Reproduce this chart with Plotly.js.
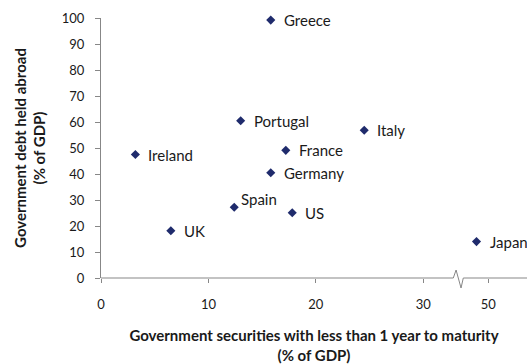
<!DOCTYPE html>
<html>
<head>
<meta charset="utf-8">
<script src="https://cdn.plot.ly/plotly-3.0.1.min.js"></script>
<style>html,body{margin:0;padding:0;background:#fff;}#chart{width:527px;height:364px;}</style>
</head>
<body>
<div id="chart"></div>
<script>
// Data (x: government securities < 1 year to maturity, % of GDP; y: government debt held abroad, % of GDP)
const countries = ["Greece", "Portugal", "Italy", "Ireland", "France", "Germany", "Spain", "US", "UK", "Japan"];
const shortTermSecurities = [15.8, 13.0, 24.5, 3.2, 17.2, 15.8, 12.4, 17.8, 6.5, 48.9];
const debtHeldAbroad = [99.2, 60.5, 56.8, 47.5, 49.1, 40.5, 27.2, 25.1, 18.2, 14.0];
const xTickValues = [0, 10, 20, 30, 50];
const xTickLabels = ["0", "10", "20", "30", "50"];
const yTickValues = [0, 10, 20, 30, 40, 50, 60, 70, 80, 90, 100];

// Broken x-axis: values above the break are shifted left
const BREAK_DISPLAY = 33.15;   // where the zig-zag sits (display units)
const BREAK_SHIFT = 13.95;     // shift applied to values beyond the break
const BREAK_LIMIT = 35;
function disp(v) { return v > BREAK_LIMIT ? v - BREAK_SHIFT : v; }

const X_RANGE = [0, 39.65];
const Y_RANGE = [0, 100];
const navy = "#1F2B6C";
const axisGrey = "#878787";
const labelFont = {family: "Lato, 'Open Sans', sans-serif", size: 15, color: "#1a1a1a"};

const xDisp = shortTermSecurities.map(disp);

const trace = {
  type: "scatter",
  mode: "markers",
  x: xDisp,
  y: debtHeldAbroad,
  text: countries,
  hoverinfo: "text",
  marker: {symbol: "diamond", size: 7, color: navy},
  cliponaxis: false
};

// Labels (Spain is placed above-right)
const annotations = countries.map((c, i) => ({
  x: xDisp[i], y: debtHeldAbroad[i], xref: "x", yref: "y",
  text: c, showarrow: false, xanchor: "left", yanchor: "middle",
  xshift: c === "Spain" ? 5 : 11, yshift: c === "Spain" ? 8 : 0,
  font: labelFont
}));

// axis line with break symbol, in paper coordinates
function px(d) { return (d - X_RANGE[0]) / (X_RANGE[1] - X_RANGE[0]); }
const plotH = 260;
const b0 = px(BREAK_DISPLAY - 0.36), b1 = px(BREAK_DISPLAY - 0.1), b2 = px(BREAK_DISPLAY + 0.36), b3 = px(BREAK_DISPLAY + 0.57);
const up = 8 / plotH, dn = -10 / plotH;
const shapes = [
  {type: "line", xref: "paper", yref: "paper", x0: 0, x1: b0, y0: 0, y1: 0, line: {color: axisGrey, width: 1}},
  {type: "path", xref: "paper", yref: "paper",
   path: `M ${b0},0 L ${b1},${up} L ${b2},${dn} L ${b3},0`,
   line: {color: axisGrey, width: 1}},
  {type: "line", xref: "paper", yref: "paper", x0: b3, x1: 1.02, y0: 0, y1: 0, line: {color: axisGrey, width: 1}}
];

const tickFont = {family: "Lato, 'Open Sans', sans-serif", size: 13, color: "#1a1a1a"};
const titleFont = {family: "Lato, 'Open Sans', sans-serif", size: 15, color: "#1a1a1a", weight: "bold"};

const layout = {
  width: 527, height: 364,
  margin: {l: 101, r: 0, t: 18, b: 86},
  paper_bgcolor: "#ffffff", plot_bgcolor: "#ffffff",
  showlegend: false,
  xaxis: {
    range: X_RANGE, tickmode: "array", tickvals: xTickValues.map(disp), ticktext: xTickLabels,
    showgrid: false, zeroline: false, showline: false,
    ticks: "outside", ticklen: 4, tickcolor: axisGrey, tickfont: tickFont, ticklabelstandoff: 10,
    title: {text: "<b>Government securities with less than 1 year to maturity</b><br><b>(% of GDP)</b>", font: titleFont, standoff: 22},
    automargin: false, fixedrange: true
  },
  yaxis: {
    range: Y_RANGE, tickmode: "array", tickvals: yTickValues,
    showgrid: false, zeroline: false, showline: true, linecolor: axisGrey, linewidth: 1,
    ticks: "outside", ticklen: 5, tickcolor: axisGrey, tickfont: tickFont, ticklabelstandoff: 8,
    title: {text: "<b>Government debt held abroad</b><br><b>(% of GDP)</b>", font: titleFont, standoff: 12},
    automargin: false, fixedrange: true
  },
  annotations: annotations,
  shapes: shapes
};

Plotly.newPlot("chart", [trace], layout, {displayModeBar: false, staticPlot: true});
</script>
</body>
</html>
